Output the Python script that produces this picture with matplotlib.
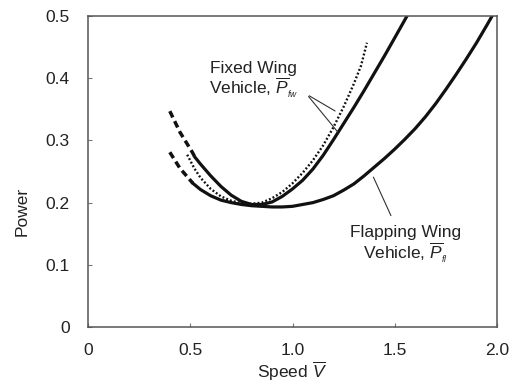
import matplotlib
matplotlib.use("Agg")
import matplotlib.pyplot as plt

plt.rcParams['font.family'] = ['Liberation Sans', 'DejaVu Sans']
plt.rcParams['mathtext.fontset'] = 'custom'
plt.rcParams['mathtext.rm'] = 'Liberation Sans'
plt.rcParams['mathtext.it'] = 'Liberation Sans:italic'

# ---- data ----
# upper dashed start (leads into middle solid curve)
v_up_dash = [0.40, 0.45, 0.51, 0.523]
p_up_dash = [0.347, 0.313, 0.281, 0.273]

# middle solid curve
v_mid = [0.523, 0.55, 0.60, 0.65, 0.70, 0.75, 0.80, 0.85, 0.90, 0.95, 1.00, 1.05,
         1.10, 1.15, 1.20, 1.25, 1.30, 1.35, 1.40, 1.45, 1.50, 1.56]
p_mid = [0.273, 0.262, 0.243, 0.226, 0.212, 0.202, 0.197, 0.197, 0.201, 0.210, 0.222, 0.236,
         0.254, 0.276, 0.301, 0.327, 0.353, 0.380, 0.408, 0.436, 0.465, 0.500]

# dotted curve (fixed wing)
v_dot = [0.485, 0.52, 0.55, 0.60, 0.65, 0.70, 0.75, 0.80, 0.85, 0.90, 0.95, 1.00,
         1.05, 1.10, 1.15, 1.20, 1.25, 1.30, 1.335, 1.364]
p_dot = [0.277, 0.255, 0.240, 0.222, 0.210, 0.203, 0.199, 0.198, 0.200, 0.207, 0.217, 0.231,
         0.248, 0.268, 0.292, 0.321, 0.354, 0.391, 0.420, 0.457]

# lower dashed start (leads into flapping-wing curve)
v_lo_dash = [0.40, 0.45, 0.513]
p_lo_dash = [0.281, 0.255, 0.231]

# flapping wing solid curve
v_flap = [0.513, 0.55, 0.60, 0.65, 0.70, 0.75, 0.80, 0.85, 0.90, 0.95, 1.00, 1.05, 1.10,
          1.15, 1.20, 1.25, 1.30, 1.35, 1.40, 1.45, 1.50, 1.55, 1.60, 1.65, 1.70, 1.75,
          1.80, 1.85, 1.90, 1.95, 1.976]
p_flap = [0.231, 0.221, 0.211, 0.204, 0.200, 0.197, 0.195, 0.194, 0.193, 0.193, 0.194, 0.197, 0.200,
          0.205, 0.211, 0.220, 0.230, 0.243, 0.257, 0.271, 0.286, 0.302, 0.319, 0.338, 0.359, 0.382,
          0.406, 0.431, 0.457, 0.485, 0.500]

x_ticks = [0, 0.5, 1.0, 1.5, 2.0]
x_ticklabels = ['0', '0.5', '1.0', '1.5', '2.0']
y_ticks = [0, 0.1, 0.2, 0.3, 0.4, 0.5]
y_ticklabels = ['0', '0.1', '0.2', '0.3', '0.4', '0.5']

fig = plt.figure(figsize=(5.09, 3.85), dpi=100)
ax = fig.add_axes([88/509, 58/385, 409/509, 311/385])

ink = '#111111'
ax.plot(v_up_dash, p_up_dash, color=ink, lw=2.5, linestyle=(0, (2.0, 1.2)), solid_capstyle='butt')
ax.plot(v_lo_dash, p_lo_dash, color=ink, lw=2.5, linestyle=(0, (2.0, 1.2)), solid_capstyle='butt')
ax.plot(v_mid, p_mid, color=ink, lw=2.3)
ax.plot(v_flap, p_flap, color=ink, lw=2.3)
ax.plot(v_dot, p_dot, color=ink, lw=1.7, linestyle=(0, (0.8, 0.9)))

ax.set_xlim(0, 2.0)
ax.set_ylim(0, 0.5)
ax.set_xticks(x_ticks)
ax.set_xticklabels(x_ticklabels)
ax.set_yticks(y_ticks)
ax.set_yticklabels(y_ticklabels)

for s in ax.spines.values():
    s.set_color('#555555')
    s.set_linewidth(1.1)
ax.tick_params(axis='x', direction='in', length=3, width=0.8, color='#777777',
               labelsize=12.5, labelcolor='#222222', pad=11.5)
ax.tick_params(axis='y', direction='in', length=3, width=0.8, color='#777777',
               labelsize=12.5, labelcolor='#222222', pad=13)

fig.text(22/509, 1 - 211/385, 'Power', rotation=90, ha='center', va='center',
         fontsize=12.5, color='#222222')
fig.text(292/509, 1 - 378/385, r'Speed $\overline{V}$', ha='center', va='baseline',
         fontsize=12.5, color='#222222')

# annotations
tc = '#222222'
ax.text(0.81, 0.408, 'Fixed Wing', ha='center', va='baseline', fontsize=12.5, color=tc)
ax.text(0.81, 0.376, r'Vehicle, $\overline{P}_{_{fw}}$', ha='center', va='baseline', fontsize=12.5, color=tc)
ax.annotate('', xy=(1.22, 0.345), xytext=(1.07, 0.374),
            arrowprops=dict(arrowstyle='-', color='#333333', lw=0.8))
ax.annotate('', xy=(1.23, 0.31), xytext=(1.07, 0.374),
            arrowprops=dict(arrowstyle='-', color='#333333', lw=0.8))

ax.text(1.555, 0.145, 'Flapping Wing', ha='center', va='baseline', fontsize=12.5, color=tc)
ax.text(1.55, 0.111, r'Vehicle, $\overline{P}_{_{fl}}$', ha='center', va='baseline', fontsize=12.5, color=tc)
ax.annotate('', xy=(1.39, 0.245), xytext=(1.487, 0.175),
            arrowprops=dict(arrowstyle='-', color='#333333', lw=0.8))

fig.savefig('out.png', dpi=100)
